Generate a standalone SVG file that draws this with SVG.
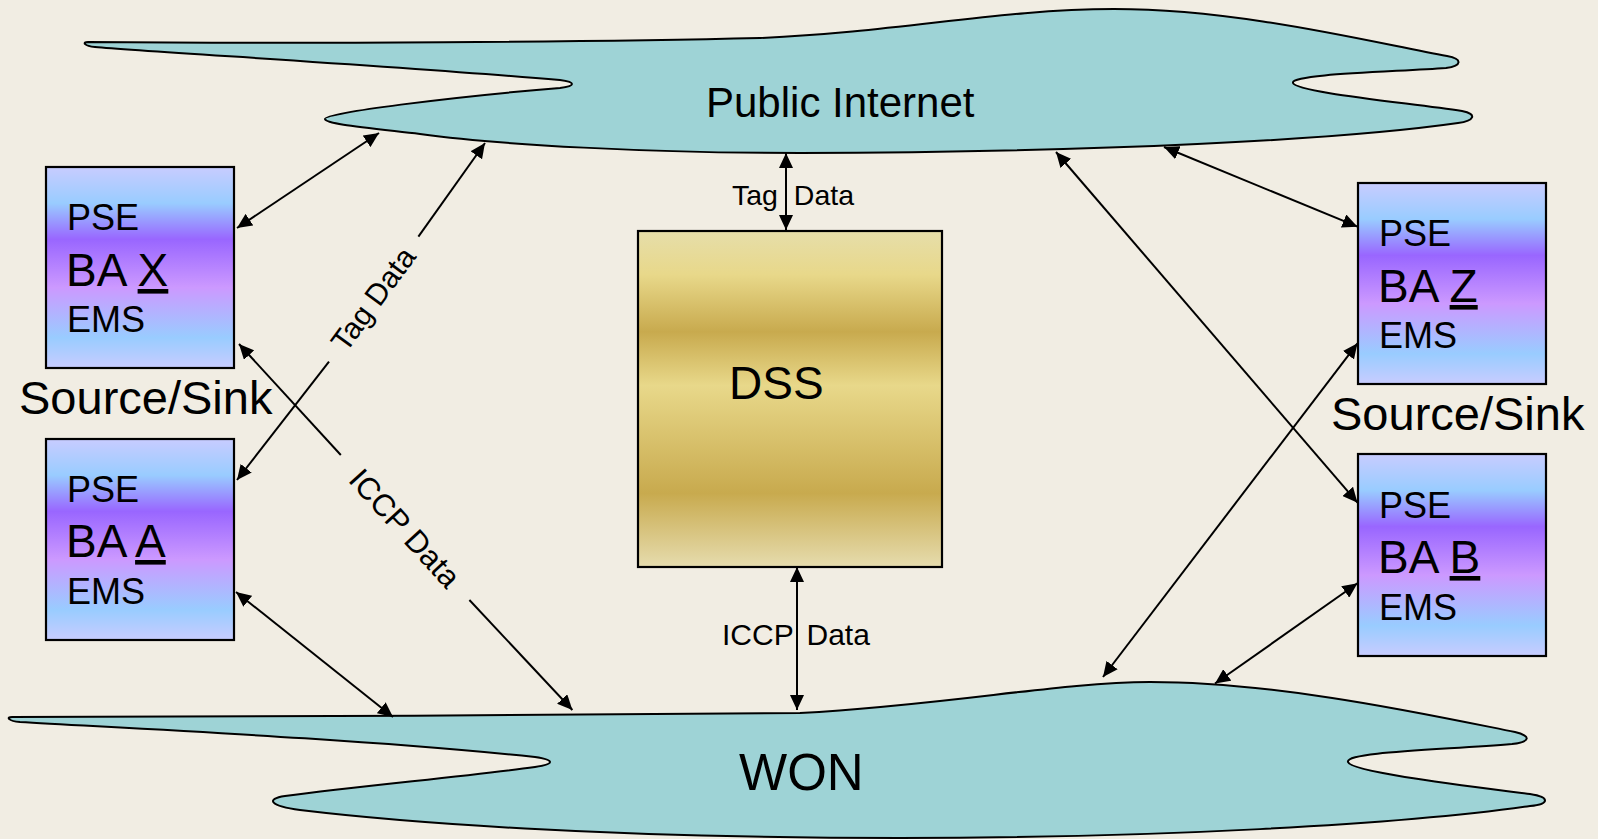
<svg xmlns="http://www.w3.org/2000/svg" width="1598" height="839" viewBox="0 0 1598 839">
  <style>
    .cloud { fill: #9ED3D6; stroke: #000; stroke-width: 2; }
    .ba { fill: url(#baGrad); stroke: #000; stroke-width: 2.2; }
    .t { font-family: "Liberation Sans", Arial, sans-serif; fill: #000; }
    .conn { stroke: #000; stroke-width: 2; fill: none; }
  </style>
  <defs>
    <linearGradient id="baGrad" x1="0" y1="0" x2="0" y2="1">
      <stop offset="0" stop-color="#C8CCFF"/>
      <stop offset="0.18" stop-color="#99CCFF"/>
      <stop offset="0.36" stop-color="#9966FF"/>
      <stop offset="0.6" stop-color="#CC99FF"/>
      <stop offset="0.85" stop-color="#99CCFF"/>
      <stop offset="1" stop-color="#C8CCFF"/>
    </linearGradient>
    <linearGradient id="dssGrad" x1="0" y1="0" x2="0" y2="1">
      <stop offset="0" stop-color="#E6DEAA"/>
      <stop offset="0.13" stop-color="#E8D88A"/>
      <stop offset="0.30" stop-color="#C8AA4E"/>
      <stop offset="0.46" stop-color="#E8D88A"/>
      <stop offset="0.78" stop-color="#C8AA4E"/>
      <stop offset="1" stop-color="#E6DCAE"/>
    </linearGradient>
    <marker id="ah" viewBox="0 0 15 14" refX="15" refY="7" markerWidth="15" markerHeight="14" markerUnits="userSpaceOnUse" orient="auto-start-reverse">
      <path d="M0,0 L15,7 L0,14 Z" fill="#000"/>
    </marker>
  </defs>

  <rect x="0" y="0" width="1598" height="839" fill="#F1EDE3"/>

  <g id="public-internet">
    <path class="cloud" d="M 88,42 C 300,44 600,42 760,38 C 900,32 1000,9 1114,9 C 1240,9 1370,42 1447,56 C 1463,59 1462,66 1446,68 C 1390,72 1290,74 1293,83 C 1296,92 1400,102 1462,111 C 1478,114 1474,121 1458,123 C 1340,140 1100,152 800,153 C 650,153 500,145 420,134 C 360,127 326,124 325,119 C 324,113 450,97 560,88 C 576,86 576,82 560,80 C 400,66 150,52 95,47 C 84,46 82,42 88,42 Z"/>
    <text class="t" x="706" y="117" font-size="42">Public Internet</text>
  </g>

  <g id="won">
    <path class="cloud" d="M 12,717 C 200,716 600,716 800,713 C 950,705 1060,682 1150,682 C 1280,682 1430,715 1515,732 C 1532,736 1530,742 1512,744 C 1440,750 1345,752 1348,762 C 1351,772 1460,785 1530,794 C 1550,797 1550,804 1530,806 C 1400,825 1150,838 900,838 C 600,838 400,822 300,810 C 270,806 265,799 285,796 C 360,786 470,776 535,767 C 555,764 555,760 535,757 C 350,738 120,728 20,722 C 8,721 6,717 12,717 Z"/>
    <text class="t" x="739" y="790" font-size="51">WON</text>
  </g>

  <g id="dss">
    <rect x="638" y="231" width="304" height="336" fill="url(#dssGrad)" stroke="#000" stroke-width="2.2"/>
    <text class="t" x="729" y="399" font-size="46">DSS</text>
  </g>

  <g id="ba-x">
    <rect class="ba" x="46" y="167" width="188" height="201"/>
    <text class="t" x="67" y="230" font-size="36">PSE</text>
    <text class="t" x="66" y="286" font-size="46">BA <tspan text-decoration="underline">X</tspan></text>
    <text class="t" x="67" y="332" font-size="36">EMS</text>
  </g>
  <g id="source-sink-left">
    <text class="t" x="19" y="414" font-size="47">Source/Sink</text>
  </g>

  <g id="ba-a">
    <rect class="ba" x="46" y="439" width="188" height="201"/>
    <text class="t" x="67" y="502" font-size="36">PSE</text>
    <text class="t" x="66" y="557" font-size="46">BA <tspan text-decoration="underline">A</tspan></text>
    <text class="t" x="67" y="604" font-size="36">EMS</text>
  </g>

  <g id="ba-z">
    <rect class="ba" x="1358" y="183" width="188" height="201"/>
    <text class="t" x="1379" y="246" font-size="36">PSE</text>
    <text class="t" x="1378" y="302" font-size="46">BA <tspan text-decoration="underline">Z</tspan></text>
    <text class="t" x="1379" y="348" font-size="36">EMS</text>
  </g>
  <g id="source-sink-right">
    <text class="t" x="1331" y="430" font-size="47">Source/Sink</text>
  </g>

  <g id="ba-b">
    <rect class="ba" x="1358" y="454" width="188" height="202"/>
    <text class="t" x="1379" y="518" font-size="36">PSE</text>
    <text class="t" x="1378" y="573" font-size="46">BA <tspan text-decoration="underline">B</tspan></text>
    <text class="t" x="1379" y="620" font-size="36">EMS</text>
  </g>

  <g id="connectors">
    <line class="conn" x1="237" y1="228" x2="379" y2="133" marker-start="url(#ah)" marker-end="url(#ah)"/>
    <line class="conn" x1="485" y1="143" x2="418.4" y2="236.7" marker-start="url(#ah)"/>
    <line class="conn" x1="329" y1="361.7" x2="237" y2="480" marker-end="url(#ah)"/>
    <text class="t" font-size="30" text-anchor="middle" transform="translate(373,299) rotate(-53.7)" x="0" y="10.5">Tag Data</text>
    <line class="conn" x1="239" y1="344" x2="340.8" y2="455" marker-start="url(#ah)"/>
    <line class="conn" x1="469.4" y1="600" x2="572.4" y2="710" marker-end="url(#ah)"/>
    <text class="t" font-size="31" text-anchor="middle" transform="translate(405,528) rotate(47.65)" x="0" y="11">ICCP Data</text>
    <line class="conn" x1="236" y1="592" x2="393" y2="717" marker-start="url(#ah)" marker-end="url(#ah)"/>
    <line class="conn" x1="786" y1="153" x2="786" y2="230" marker-start="url(#ah)" marker-end="url(#ah)"/>
    <text class="t" x="732" y="205" font-size="28.5" word-spacing="8">Tag Data</text>
    <line class="conn" x1="797" y1="567" x2="797" y2="710" marker-start="url(#ah)" marker-end="url(#ah)"/>
    <text class="t" x="722" y="645" font-size="30" word-spacing="5">ICCP Data</text>
    <line class="conn" x1="1056" y1="152" x2="1357.5" y2="502.7" marker-start="url(#ah)" marker-end="url(#ah)"/>
    <line class="conn" x1="1164" y1="147" x2="1357.5" y2="226.7" marker-start="url(#ah)" marker-end="url(#ah)"/>
    <line class="conn" x1="1357.5" y1="343.3" x2="1103" y2="677" marker-start="url(#ah)" marker-end="url(#ah)"/>
    <line class="conn" x1="1357.5" y1="583.3" x2="1215" y2="683.5" marker-start="url(#ah)" marker-end="url(#ah)"/>
  </g>
</svg>
